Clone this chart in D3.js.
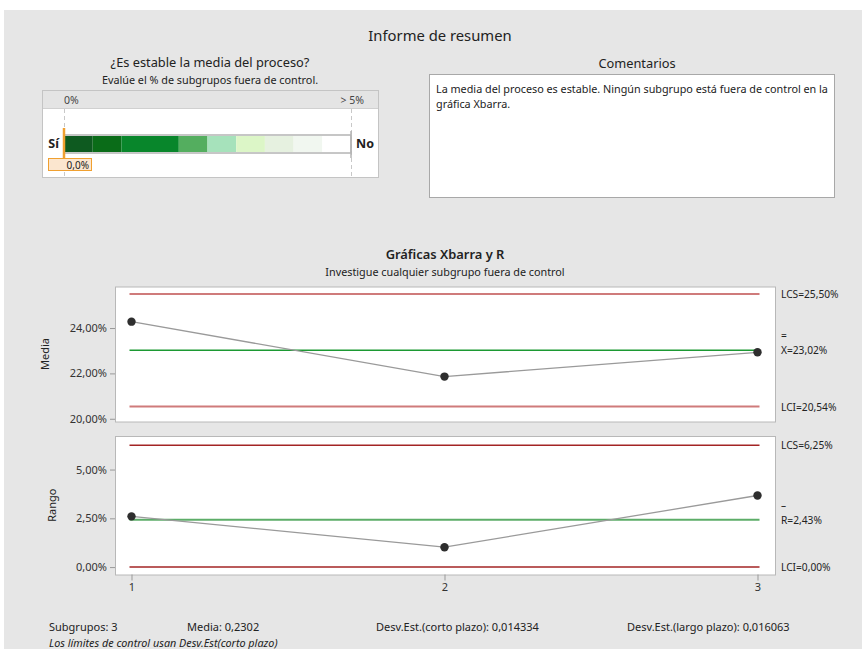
<!DOCTYPE html>
<html>
<head>
<meta charset="utf-8">
<script src="https://cdn.jsdelivr.net/npm/d3@7"></script>
<style>
  body { margin: 0; background: #fff; }
  text { font-family: "Noto Sans", "Open Sans", sans-serif; fill: #222; }
</style>
</head>
<body>
<div id="chart"></div>
<script>
const subgroups = [1, 2, 3];
const meanValues = [24.28, 21.86, 22.93];
const rangeValues = [2.60, 1.02, 3.67];
const meanLimits = [25.50, 23.02, 20.54];   // LCS, centre, LCI
const rangeLimits = [6.25, 2.43, 0.00];
const meanTicks = [20, 22, 24];
const rangeTicks = [0, 2.5, 5];
const meanLimitNames = ["LCS", "X", "LCI"];
const rangeLimitNames = ["LCS", "R", "LCI"];

const pctOutOfControl = 0.0;
const meterBreaks = [0, 0.5, 1, 2, 2.5, 3, 3.5, 4, 4.5, 5];
const meterColors = ["#0e5a20", "#0a6c18", "#08862b", "#54ae5f", "#a6e2bb", "#dcf6c7", "#e6f1e0", "#f1f7f0", "#ffffff"];

const commentLines = [
    "La media del proceso es estable. Ningún subgrupo está fuera de control en la",
    "gráfica Xbarra."
];
const footerStats = [
    "Subgrupos: 3",
    "Media: 0,2302",
    "Desv.Est.(corto plazo): 0,014334",
    "Desv.Est.(largo plazo): 0,016063"
];
const footerNote = "Los límites de control usan Desv.Est(corto plazo)";

const fmtPct = d => d3.format(".2f")(d).replace(".", ",") + "%";

const W = 862, H = 649;
const svg = d3.select("#chart").append("svg")
    .attr("width", W).attr("height", H);

// background
svg.append("rect").attr("x", 4).attr("y", 10).attr("width", W - 4).attr("height", H - 10)
    .attr("fill", "#e6e6e6");

svg.append("text").attr("x", 440).attr("y", 41).attr("text-anchor", "middle")
    .style("font-size", "14.8px").text("Informe de resumen");

// --- stability meter ---
function drawMeter() {
    const g = svg.append("g");
    g.append("text").attr("x", 210).attr("y", 67).attr("text-anchor", "middle")
        .style("font-size", "12.8px").text("¿Es estable la media del proceso?");
    g.append("text").attr("x", 210).attr("y", 83.5).attr("text-anchor", "middle")
        .style("font-size", "10.8px").text("Evalúe el % de subgrupos fuera de control.");

    g.append("rect").attr("x", 42.5).attr("y", 90.5).attr("width", 336).attr("height", 87)
        .attr("fill", "#fff").attr("stroke", "#c4c4c4");
    g.append("rect").attr("x", 43).attr("y", 91).attr("width", 335).attr("height", 17)
        .attr("fill", "#e4e4e4");
    g.append("line").attr("x1", 43).attr("x2", 378).attr("y1", 108.5).attr("y2", 108.5)
        .attr("stroke", "#d0d0d0");

    const x = d3.scaleLinear().domain([0, 5]).range([64, 351]);

    g.append("text").attr("x", x(0)).attr("y", 104).style("font-size", "10.5px")
        .style("fill", "#444").text("0%");
    g.append("text").attr("x", 364).attr("y", 104).attr("text-anchor", "end")
        .style("font-size", "10.5px").style("fill", "#444").text("> 5%");

    g.selectAll(".guide").data([0, 5]).enter().append("line")
        .attr("x1", d => x(d) + 0.5).attr("x2", d => x(d) + 0.5)
        .attr("y1", 109).attr("y2", 177)
        .attr("stroke", "#c8c8c8").attr("stroke-dasharray", "4,3");

    const segs = meterColors.map((c, i) => ({ a: meterBreaks[i], b: meterBreaks[i + 1], c }));
    g.selectAll(".seg").data(segs).enter().append("rect")
        .attr("x", d => x(d.a)).attr("width", d => x(d.b) - x(d.a))
        .attr("y", 136).attr("height", 16)
        .attr("fill", d => d.c);
    g.append("rect").attr("x", x(0)).attr("y", 135).attr("width", x(5) - x(0)).attr("height", 18)
        .attr("fill", "none").attr("stroke", "#b4b4b4").attr("stroke-width", 1.5);
    g.append("line").attr("x1", x(5)).attr("x2", x(5)).attr("y1", 131).attr("y2", 158)
        .attr("stroke", "#b4b4b4").attr("stroke-width", 1.5);

    g.append("text").attr("x", 59).attr("y", 148).attr("text-anchor", "end")
        .style("font-size", "12.5px").style("font-weight", "bold").text("Sí");
    g.append("text").attr("x", 356).attr("y", 148)
        .style("font-size", "12.5px").style("font-weight", "bold").text("No");

    g.append("line").attr("x1", x(pctOutOfControl)).attr("x2", x(pctOutOfControl))
        .attr("y1", 128).attr("y2", 158)
        .attr("stroke", "#f0a030").attr("stroke-width", 2.5);
    g.append("rect").attr("x", 48.5).attr("y", 158.5).attr("width", 43).attr("height", 12)
        .attr("fill", "#fbe6cf").attr("stroke", "#f0a030");
    g.append("text").attr("x", 89).attr("y", 168.5).attr("text-anchor", "end")
        .style("font-size", "10px").text(d3.format(".1f")(pctOutOfControl).replace(".", ",") + "%");
}

// --- comments ---
function drawComments() {
    const g = svg.append("g");
    g.append("text").attr("x", 637).attr("y", 68).attr("text-anchor", "middle")
        .style("font-size", "12.8px").text("Comentarios");
    g.append("rect").attr("x", 429.5).attr("y", 74.5).attr("width", 405).attr("height", 123)
        .attr("fill", "#fff").attr("stroke", "#a8a8a8");
    g.selectAll(".cl").data(commentLines).enter().append("text")
        .attr("x", 436).attr("y", (d, i) => 93 + i * 15)
        .style("font-size", "10.8px").text(d => d);
}

// --- control chart panel ---
function drawPanel(top, bottom, domain, values, limits, names, ticks, yTitle, showX, limitStyle) {
    const left = 115, right = 775;
    const x = d3.scalePoint().domain(subgroups).range([131.5, 757.5]);
    const y = d3.scaleLinear().domain(domain).range([bottom, top]);
    const g = svg.append("g");

    g.append("rect").attr("x", left + 0.5).attr("y", top + 0.5)
        .attr("width", right - left).attr("height", bottom - top)
        .attr("fill", "#fff").attr("stroke", "#b8b8b8");

    const ax = g.append("g").attr("transform", `translate(${left},0)`)
        .call(d3.axisLeft(y).tickValues(ticks).tickSize(5).tickPadding(3).tickFormat(fmtPct));
    ax.select(".domain").remove();
    ax.selectAll(".tick line").attr("stroke", "#999");
    ax.selectAll(".tick text").style("font-size", "11px").style("fill", "#333")
        .style("font-family", "'Noto Sans', sans-serif");

    g.append("text").attr("transform", `translate(${yTitle.x},${y((domain[0] + domain[1]) / 2)}) rotate(-90)`)
        .attr("text-anchor", "middle").style("font-size", "11px").text(yTitle.label);

    g.selectAll(".lim").data(limits).enter().append("line")
        .attr("x1", x(subgroups[0]) - 2).attr("x2", x(subgroups[subgroups.length - 1]) + 2)
        .attr("y1", d => y(d)).attr("y2", d => y(d))
        .attr("stroke", (d, i) => limitStyle.colors[i])
        .attr("stroke-width", (d, i) => limitStyle.widths[i]);

    const pts = subgroups.map((s, i) => [x(s), y(values[i])]);
    g.append("path").attr("d", d3.line()(pts))
        .attr("fill", "none").attr("stroke", "#9a9a9a").attr("stroke-width", 1.3);
    g.selectAll(".pt").data(pts).enter().append("circle")
        .attr("cx", d => d[0]).attr("cy", d => d[1]).attr("r", 4.2)
        .attr("fill", "#2e2e2e");

    // limit labels
    limits.forEach((v, i) => {
        g.append("text").attr("x", 781).attr("y", y(v) + 4).style("font-size", "10.2px")
            .text(`${names[i]}=${fmtPct(v)}`);
        if (i === 1) {
            const mark = names[i] === "X" ? "=" : "–";
            g.append("text").attr("x", 781).attr("y", y(v) - 11).style("font-size", "10.2px").text(mark);
        }
    });

    if (showX) {
        const xa = g.append("g").attr("transform", `translate(0,${bottom})`)
            .call(d3.axisBottom(x).tickSize(6).tickPadding(3));
        xa.select(".domain").remove();
        xa.selectAll(".tick line").attr("stroke", "#999");
        xa.selectAll(".tick text").style("font-size", "11px").style("fill", "#333")
            .style("font-family", "'Noto Sans', sans-serif");
    }
}

function drawCharts() {
    svg.append("text").attr("x", 445).attr("y", 258.5).attr("text-anchor", "middle")
        .style("font-size", "12.9px").style("font-weight", "600").text("Gráficas Xbarra y R");
    svg.append("text").attr("x", 445).attr("y", 275.5).attr("text-anchor", "middle")
        .style("font-size", "10.8px").text("Investigue cualquier subgrupo fuera de control");

    drawPanel(286.5, 421.5, [19.88, 25.83], meanValues, meanLimits, meanLimitNames,
        meanTicks, { x: 49, label: "Media" }, false,
        { colors: ["#cf7b7b", "#1c9933", "#cf7b7b"], widths: [2, 1.5, 2] });
    drawPanel(436, 574.5, [-0.38, 6.72], rangeValues, rangeLimits, rangeLimitNames,
        rangeTicks, { x: 56, label: "Rango" }, true,
        { colors: ["#a32424", "#5cad68", "#a32424"], widths: [1.5, 2, 1.5] });
}

function drawFooter() {
    const xs = [49, 187, 376, 627];
    svg.selectAll(".ft").data(footerStats).enter().append("text")
        .attr("x", (d, i) => xs[i]).attr("y", 631)
        .style("font-size", "11px").text(d => d);
    svg.append("text").attr("x", 49).attr("y", 646.5).style("font-size", "10.8px")
        .style("font-style", "italic").text(footerNote);
}

drawMeter();
drawComments();
drawCharts();
drawFooter();
</script>
</body>
</html>
